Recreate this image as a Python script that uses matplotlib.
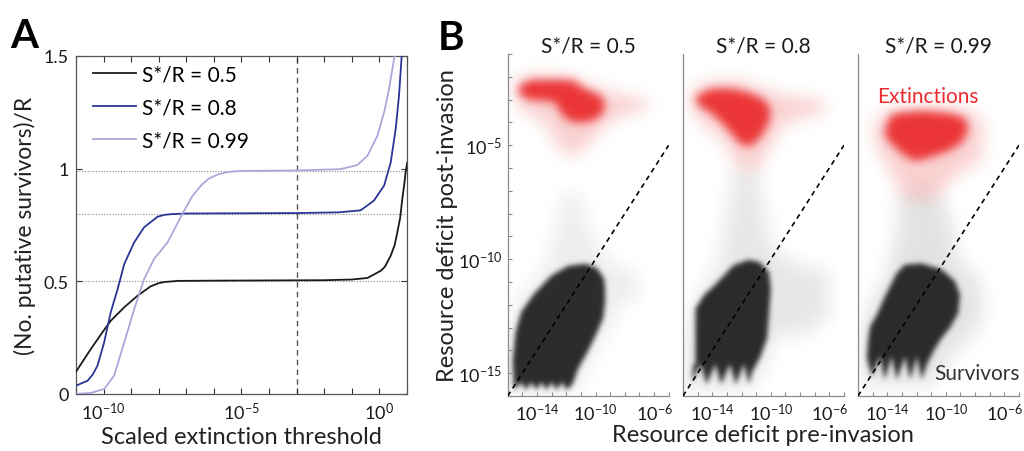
import numpy as np
import matplotlib
matplotlib.use('Agg')
import matplotlib.pyplot as plt
from matplotlib.path import Path
from matplotlib.colors import to_rgb

plt.rcParams['font.family'] = ['Lato', 'DejaVu Sans']
plt.rcParams['mathtext.fontset'] = 'custom'
plt.rcParams['mathtext.rm'] = 'Lato'
plt.rcParams['mathtext.it'] = 'Lato:italic'
plt.rcParams['mathtext.bf'] = 'Lato:bold'

W, H = 1024, 452

# ---------------- panel A: putative survivors vs threshold ----------------
RATIOS = [0.5, 0.8, 0.99]
LABELS_A = ['S*/R = 0.5', 'S*/R = 0.8', 'S*/R = 0.99']
COLORS_A = ['#1a1a1a', '#2a3595', '#aaa8da']
THRESHOLD = 1e-3

# log10(scaled threshold), survivors/R
LOGX_05 = [-11.0, -10.46, -10.0, -9.74, -9.25, -8.77, -8.29, -8.0, -7.8, -7.3, -6.0, -4.0,
           -2.0, -1.0, -0.43, 0.05, 0.2, 0.41, 0.55, 0.65, 0.75, 0.83, 0.9, 0.95, 1.01]
Y_05 = [0.099, 0.20, 0.281, 0.325, 0.385, 0.436, 0.478, 0.492, 0.497, 0.502, 0.503, 0.504,
        0.505, 0.508, 0.515, 0.547, 0.565, 0.614, 0.66, 0.718, 0.78, 0.866, 0.93, 0.984, 1.028]

LOGX_08 = [-11.0, -10.58, -10.4, -10.22, -9.98, -9.74, -9.49, -9.25, -8.89, -8.53, -8.04,
           -7.8, -7.56, -7.0, -5.0, -3.0, -1.5, -0.68, -0.2, 0.17, 0.41, 0.59, 0.71, 0.81]
Y_08 = [0.037, 0.059, 0.085, 0.126, 0.229, 0.363, 0.466, 0.577, 0.673, 0.74, 0.787,
        0.795, 0.798, 0.801, 0.802, 0.803, 0.806, 0.815, 0.858, 0.925, 1.028, 1.176, 1.324, 1.505]

LOGX_099 = [-11.0, -10.46, -9.98, -9.62, -9.25, -8.89, -8.53, -8.17, -7.68, -7.14, -6.8,
            -6.47, -6.2, -5.87, -5.5, -5.03, -3.0, -1.4, -0.8, -0.43, -0.07, 0.17, 0.35, 0.53, 0.58]
Y_099 = [0.0, 0.005, 0.022, 0.081, 0.229, 0.377, 0.51, 0.599, 0.673, 0.80, 0.875,
         0.925, 0.955, 0.974, 0.985, 0.99, 0.992, 0.998, 1.016, 1.058, 1.147, 1.25, 1.354, 1.487, 1.51]

# ---------------- panel B: resource deficit clouds (log10 outlines) ----------------
TITLES_B = ['S*/R = 0.5', 'S*/R = 0.8', 'S*/R = 0.99']

# dense red (extinctions) cores
RED_CORE_X = [
    [-15.09, -14.32, -12.77, -11.47, -11.08, -10.44, -9.66, -9.35, -9.53, -10.18, -11.08,
     -11.86, -12.38, -12.77, -13.54, -14.58, -15.15, -15.30],
    [-15.04, -14.14, -12.84, -11.55, -10.51, -10.0, -10.13, -10.64, -11.29, -11.94, -12.58,
     -13.36, -14.14, -14.91, -15.17],
    [-14.04, -13.70, -12.79, -11.65, -10.51, -9.37, -8.58, -8.47, -8.92, -9.83, -11.20,
     -12.11, -12.79, -13.70, -14.20],
]
RED_CORE_Y = [
    [-2.31, -2.13, -2.13, -2.16, -2.41, -2.60, -2.82, -3.19, -3.62, -3.92, -4.02,
     -3.92, -3.62, -3.11, -3.04, -2.99, -2.82, -2.53],
    [-2.82, -2.53, -2.50, -2.67, -2.97, -3.40, -3.99, -4.58, -5.01, -5.01, -4.58,
     -3.99, -3.55, -3.26, -2.97],
    [-4.08, -3.64, -3.54, -3.49, -3.54, -3.64, -3.86, -4.37, -4.89, -5.25, -5.55,
     -5.69, -5.47, -4.96, -4.52],
]
# faint red haze
RED_HAZE_X = [
    [-15.4, -13.5, -11.5, -10.0, -8.0, -6.0, -7.0, -9.0, -10.0, -11.3, -12.5, -13.5, -15.0, -15.6],
    [-15.4, -14.0, -12.5, -10.5, -8.5, -6.2, -6.5, -9.0, -10.0, -11.0, -12.3, -13.2, -14.5, -15.4],
    [-14.95, -14.38, -11.65, -8.69, -7.44, -7.55, -9.37, -10.74, -12.79, -13.93, -14.84],
]
RED_HAZE_Y = [
    [-2.0, -1.9, -2.0, -2.5, -2.8, -3.1, -3.5, -3.9, -4.6, -5.5, -5.2, -4.0, -3.5, -2.8],
    [-2.5, -2.2, -2.1, -2.5, -2.9, -3.0, -3.6, -4.0, -5.0, -6.2, -6.0, -4.8, -4.2, -3.5],
    [-4.15, -3.57, -3.35, -3.42, -3.86, -5.62, -6.35, -7.38, -7.38, -6.06, -5.03],
]
# dense black (survivors) cores, streaky lower edge included
BLACK_CORE_X = [
    [-15.7, -15.5, -15.1, -14.2, -13.0, -11.9, -10.7, -9.9, -9.4, -9.35, -9.5, -9.9, -10.5,
     -11.2, -11.6, -12.0, -12.3, -12.7, -13.0, -13.4, -13.7, -14.1, -14.4, -14.8, -15.1, -15.6],
    [-15.17, -15.17, -14.6, -13.62, -12.58, -11.55, -10.77, -10.13, -10.0, -10.13, -10.26,
     -10.77, -11.29, -11.5, -11.85, -12.4, -12.8, -13.4, -13.8, -14.4, -14.8, -15.4, -15.3],
    [-13.36, -12.79, -11.65, -10.28, -9.37, -9.03, -9.15, -9.72, -10.28, -10.86, -11.31, -11.54,
     -11.65, -11.99, -12.45, -12.79, -13.36, -13.70, -14.20, -14.50, -15.07, -15.41, -15.34,
     -15.18, -14.72, -14.27, -13.81],
]
BLACK_CORE_Y = [
    [-14.5, -13.2, -12.3, -11.5, -10.7, -10.3, -10.2, -10.4, -10.9, -11.8, -12.6, -13.2, -14.0,
     -14.8, -15.5, -15.75, -15.4, -15.75, -15.4, -15.75, -15.4, -15.75, -15.4, -15.75, -15.4, -15.75],
    [-14.6, -12.18, -11.6, -11.0, -10.28, -10.03, -10.13, -10.57, -11.3, -12.47, -13.49,
     -14.37, -14.95, -15.5, -14.6, -15.5, -14.6, -15.5, -14.6, -15.5, -14.6, -15.4, -14.6],
    [-10.60, -10.24, -10.19, -10.46, -10.97, -11.56, -12.37, -13.02, -13.46, -14.05, -14.64, -15.08,
     -15.30, -14.27, -15.30, -14.27, -15.30, -14.27, -15.30, -14.27, -15.15, -14.34, -13.68,
     -12.95, -12.44, -11.78, -11.19],
]
# faint grey haze around survivors and the column towards the extinctions
GREY_HAZE_X = [
    [-16.0, -16.0, -15.3, -13.5, -12.7, -12.3, -11.2, -10.5, -9.6, -7.0, -7.2, -8.3, -9.0, -10.2, -11.3],
    [-15.8, -15.8, -15.0, -13.6, -13.0, -12.6, -11.0, -10.4, -10.0, -8.0, -6.0, -6.0, -7.5, -9.6, -10.5, -11.3],
    [-15.6, -15.8, -15.2, -14.0, -13.4, -13.2, -12.0, -10.4, -9.5, -9.3, -8.0, -7.5, -7.6, -8.6, -10.0, -11.0],
]
GREY_HAZE_Y = [
    [-15.9, -13.0, -11.8, -10.3, -8.5, -7.2, -7.0, -8.5, -9.8, -10.8, -11.8, -12.0, -13.0, -14.3, -15.9],
    [-15.7, -13.2, -11.6, -10.2, -8.0, -6.2, -6.0, -8.0, -9.5, -10.3, -10.5, -12.5, -13.3, -13.3, -14.8, -15.7],
    [-15.5, -13.5, -12.0, -10.6, -9.0, -7.3, -6.9, -7.2, -8.5, -10.0, -10.6, -11.5, -13.0, -13.5, -14.6, -15.5],
]
GREY_LEVEL = [0.08, 0.11, 0.13]
XLIM_B = (1e-16, 1e-5)
YLIM_B = (1e-16, 1e-1)

RED = '#ec2d2f'
DARK = '#252525'
PANEL_W, PANEL_H = 161, 342


def rect(left, top, right, bottom):
    return [left / W, 1 - bottom / H, (right - left) / W, (bottom - top) / H]


def blur(a, s):
    r = int(3 * s) + 1
    k = np.exp(-0.5 * (np.arange(-r, r + 1) / s) ** 2)
    k /= k.sum()
    a = np.apply_along_axis(lambda v: np.convolve(v, k, mode='same'), 0, a)
    a = np.apply_along_axis(lambda v: np.convolve(v, k, mode='same'), 1, a)
    return a


# grid in log10 units, two cells per output pixel
LX0, LX1 = np.log10(XLIM_B)
LY0, LY1 = np.log10(YLIM_B)
gx = np.linspace(LX0, LX1, PANEL_W * 2)
gy = np.linspace(LY0, LY1, PANEL_H * 2)
GX, GY = np.meshgrid(gx, gy)
grid_pts = np.column_stack([GX.ravel(), GY.ravel()])


def cloud_layer(ax, lx, ly, color, peak, sigma_px, z):
    # ax is a linear axes measured in log10 units, lying under the log axes
    mask = Path(np.column_stack([lx, ly])).contains_points(grid_pts).reshape(GX.shape)
    dens = blur(mask.astype(float), sigma_px * 2) * peak
    rgba = np.zeros(GX.shape + (4,))
    rgba[..., :3] = to_rgb(color)
    rgba[..., 3] = np.clip(dens, 0, 1)
    ax.imshow(rgba, origin='lower', extent=(LX0, LX1, LY0, LY1), aspect='auto',
              interpolation='bilinear', zorder=z)


fig = plt.figure(figsize=(W / 100, H / 100), dpi=100)

# ---------------- panel A ----------------
axA = fig.add_axes(rect(76, 57, 407, 395))
for r in RATIOS:
    axA.axhline(r, color='#8a8a8a', lw=0.8, ls=(0, (1, 1.5)), zorder=1)
axA.axvline(THRESHOLD, color='#555555', lw=1.0, ls=(0, (4, 3)), zorder=1)
curves = [(LOGX_05, Y_05), (LOGX_08, Y_08), (LOGX_099, Y_099)]
for (lx, y), c, lab in zip(curves, COLORS_A, LABELS_A):
    axA.plot(10.0 ** np.asarray(lx), y, color=c, lw=1.3, label=lab, zorder=3)
axA.set_xscale('log')
axA.set_xlim(1e-11, 1e1)
axA.set_ylim(0, 1.5)
axA.set_xticks(10.0 ** np.arange(-11, 2))
axA.set_xticklabels(['$10^{%d}$' % e if e in (-10, -5, 0) else '' for e in range(-11, 2)])
axA.xaxis.set_minor_locator(matplotlib.ticker.NullLocator())
axA.set_yticks([0, 0.5, 1, 1.5])
axA.set_yticklabels(['0', '0.5', '1', '1.5'])
axA.tick_params(direction='in', top=True, right=True, length=4, width=0.8,
                labelsize=13, pad=5, colors='#333333', labelcolor='#1a1a1a')
for s in axA.spines.values():
    s.set_color('#555555')
    s.set_linewidth(0.9)
axA.set_xlabel('Scaled extinction threshold', fontsize=17, color='#222222')
axA.set_ylabel('(No. putative survivors)/R', fontsize=16.5, color='#222222')
axA.xaxis.set_label_coords(0.5, -(438 - 395) / 338)
axA.xaxis.label.set_va('center')
axA.yaxis.set_label_coords(-(76 - 25) / 331, 0.5)
axA.yaxis.label.set_va('center')
axA.legend(loc='upper left', bbox_to_anchor=(0.05, 0.975), frameon=False, fontsize=15,
           handlelength=2.1, handletextpad=0.25, labelspacing=0.62,
           borderaxespad=0, borderpad=0)

# ---------------- panel B ----------------
lefts = [507.7, 683, 858]
axesB = []
for i, left in enumerate(lefts):
    box = rect(left, 55, left + PANEL_W, 397)
    axImg = fig.add_axes(box, zorder=1)
    axImg.set_axis_off()
    cloud_layer(axImg, GREY_HAZE_X[i], GREY_HAZE_Y[i], DARK, GREY_LEVEL[i], 9, 1)
    cloud_layer(axImg, RED_HAZE_X[i], RED_HAZE_Y[i], RED, 0.22, 8, 2)
    cloud_layer(axImg, RED_CORE_X[i], RED_CORE_Y[i], RED, 0.95, 4.5, 3)
    cloud_layer(axImg, BLACK_CORE_X[i], BLACK_CORE_Y[i], DARK, 0.97, 2.5, 4)
    axImg.set_xlim(LX0, LX1)
    axImg.set_ylim(LY0, LY1)

    ax = fig.add_axes(box, zorder=2)
    ax.patch.set_alpha(0)
    axesB.append(ax)
    ax.set_xscale('log')
    ax.set_yscale('log')
    ax.plot(XLIM_B, XLIM_B, color='black', lw=1.2, ls=(0, (3, 2.5)), zorder=6)
    ax.set_xlim(*XLIM_B)
    ax.set_ylim(*YLIM_B)

    for side in ('top', 'right'):
        ax.spines[side].set_visible(False)
    for side in ('left', 'bottom'):
        ax.spines[side].set_color('#8a8a8a')
        ax.spines[side].set_linewidth(0.9)
    ax.set_xticks(10.0 ** np.arange(-16, -4))
    ax.set_xticklabels(['$10^{%d}$' % e if e in (-14, -10, -6) else '' for e in range(-16, -4)])
    ax.xaxis.set_minor_locator(matplotlib.ticker.NullLocator())
    ax.yaxis.set_minor_locator(matplotlib.ticker.NullLocator())
    ax.tick_params(direction='in', length=3, width=0.8, colors='#8a8a8a',
                   labelcolor='#1a1a1a', labelsize=13, pad=4)
    if i == 0:
        ax.set_yticks(10.0 ** np.arange(-16, 0))
        ax.set_yticklabels(['$10^{%d}$' % e if e in (-15, -10, -5) else '' for e in range(-16, 0)])
    else:
        ax.set_yticks([])
    ax.text(0.5, (397 - 46.5) / 342, TITLES_B[i], transform=ax.transAxes,
            ha='center', va='center', fontsize=15, color='#1a1a1a')

axesB[0].set_ylabel('Resource deficit post-invasion', fontsize=17, color='#222222')
axesB[0].yaxis.set_label_coords(-(507.7 - 447) / 161, 0.5)
axesB[0].yaxis.label.set_va('center')
fig.text(763 / W, 1 - 436 / H, 'Resource deficit pre-invasion', ha='center', va='center',
         fontsize=17, color='#222222')

axesB[2].text((928 - 858) / 161, (397 - 97) / 342, 'Extinctions', transform=axesB[2].transAxes,
              ha='center', va='center', fontsize=15, color=RED, zorder=8)
axesB[2].text((977 - 858) / 161, (397 - 374) / 342, 'Survivors', transform=axesB[2].transAxes,
              ha='center', va='center', fontsize=15, color='#333333', zorder=8, clip_on=False)

fig.text(24 / W, 1 - 37 / H, 'A', fontsize=29, fontweight='bold', ha='center', va='center')
fig.text(451 / W, 1 - 38 / H, 'B', fontsize=29, fontweight='bold', ha='center', va='center')

fig.savefig('out.png', dpi=100)
